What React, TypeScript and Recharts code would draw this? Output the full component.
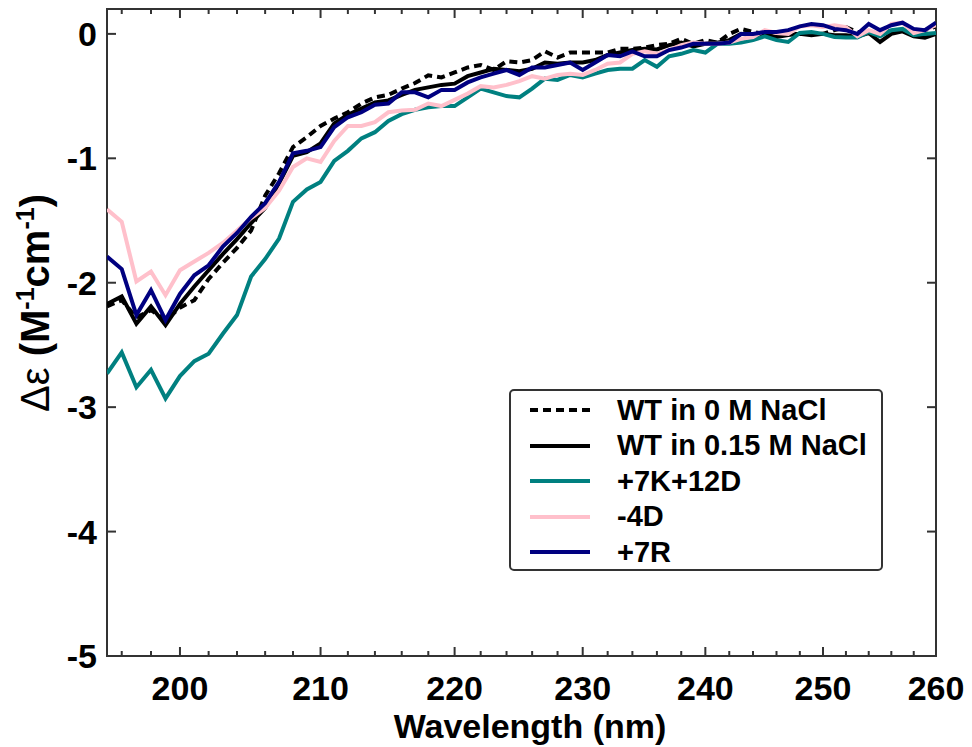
import { LineChart, Line, XAxis, YAxis, Legend, ReferenceArea, ReferenceLine } from "recharts";

// wavelength (nm), one reading per nm
const wavelength = [
  195, 196, 197, 198, 199, 200, 201, 202, 203, 204, 205, 206, 207, 208, 209, 210,
  211, 212, 213, 214, 215, 216, 217, 218, 219, 220, 221, 222, 223, 224, 225, 226,
  227, 228, 229, 230, 231, 232, 233, 234, 235, 236, 237, 238, 239, 240, 241, 242,
  243, 244, 245, 246, 247, 248, 249, 250, 251, 252, 253, 254, 255, 256, 257, 258,
  259, 260,
];

const wt0M = [
  -2.19, -2.14, -2.28, -2.22, -2.3, -2.2, -2.14, -1.97, -1.84, -1.72, -1.58, -1.3, -1.12, -0.91, -0.83, -0.74,
  -0.68, -0.63, -0.56, -0.51, -0.49, -0.44, -0.395, -0.333, -0.35, -0.31, -0.27, -0.25, -0.29, -0.22, -0.23, -0.21,
  -0.14, -0.19, -0.15, -0.15, -0.15, -0.15, -0.12, -0.12, -0.11, -0.09, -0.08, -0.04, -0.08, -0.05, -0.07, 0.0,
  0.04, 0.015, 0.0, 0.015, 0.0, 0.0, 0.007, 0.0, 0.03, 0.055, 0.015, 0.0, -0.01, 0.03, 0.03, 0.0,
  0.03, 0.06,
];

const wt015M = [
  -2.17, -2.11, -2.33, -2.19, -2.34, -2.17, -2.03, -1.9, -1.77, -1.65, -1.52, -1.4, -1.2, -0.98, -0.95, -0.88,
  -0.72, -0.65, -0.6, -0.55, -0.535, -0.49, -0.45, -0.43, -0.41, -0.4, -0.34, -0.31, -0.28, -0.29, -0.3, -0.28,
  -0.23, -0.24, -0.23, -0.23, -0.21, -0.17, -0.15, -0.13, -0.12, -0.125, -0.09, -0.07, -0.1, -0.08, -0.07, -0.05,
  0.0, -0.01, -0.01, -0.025, -0.01, 0.0, -0.01, 0.0, -0.01, -0.01, -0.02, 0.007, -0.065, 0.0, 0.02, -0.02,
  -0.03, 0.0,
];

const k7d12 = [
  -2.73, -2.56, -2.84, -2.7, -2.93, -2.75, -2.63, -2.57, -2.41, -2.26, -1.95, -1.81, -1.645, -1.35, -1.25, -1.19,
  -1.02, -0.94, -0.84, -0.79, -0.7, -0.645, -0.61, -0.59, -0.58, -0.58, -0.51, -0.44, -0.47, -0.5, -0.51, -0.44,
  -0.36, -0.37, -0.33, -0.35, -0.32, -0.29, -0.28, -0.28, -0.21, -0.265, -0.18, -0.16, -0.13, -0.15, -0.08, -0.08,
  -0.07, -0.05, -0.02, -0.05, -0.065, 0.007, 0.015, 0.0, -0.025, -0.03, -0.03, 0.015, -0.02, 0.03, 0.04, -0.01,
  0.0, 0.007,
];

const d4 = [
  -1.41, -1.51, -1.99, -1.91, -2.1, -1.9, -1.83, -1.76, -1.68, -1.58, -1.48, -1.4, -1.26, -1.07, -1.0, -1.03,
  -0.86, -0.74, -0.74, -0.71, -0.63, -0.615, -0.61, -0.56, -0.58, -0.53, -0.48, -0.42, -0.43, -0.41, -0.38, -0.34,
  -0.36, -0.33, -0.32, -0.33, -0.29, -0.24, -0.23, -0.16, -0.14, -0.16, -0.13, -0.09, -0.07, -0.08, -0.08, -0.07,
  -0.04, -0.025, 0.03, 0.007, 0.0, 0.06, 0.07, 0.055, 0.07, 0.055, -0.02, 0.03, 0.0, 0.08, 0.09, 0.007,
  0.03, 0.07,
];

const r7 = [
  -1.79, -1.89, -2.26, -2.06, -2.3, -2.09, -1.94, -1.86, -1.71, -1.6, -1.47, -1.36, -1.19, -0.96, -0.94, -0.91,
  -0.75, -0.67, -0.63, -0.57, -0.56, -0.47, -0.47, -0.51, -0.45, -0.45, -0.39, -0.35, -0.32, -0.29, -0.33, -0.27,
  -0.27, -0.25, -0.23, -0.29, -0.23, -0.17, -0.18, -0.14, -0.18, -0.18, -0.13, -0.11, -0.08, -0.08, -0.08, -0.07,
  0.0, 0.0, 0.015, 0.015, 0.03, 0.06, 0.08, 0.07, 0.04, 0.03, 0.0, 0.08, 0.03, 0.07, 0.09, 0.04,
  0.03, 0.09,
];

const xTicks = [200, 210, 220, 230, 240, 250, 260];
const xMinorTicks = [
  196, 198, 202, 204, 206, 208, 212, 214, 216, 218, 222, 224, 226, 228,
  232, 234, 236, 238, 242, 244, 246, 248, 252, 254, 256, 258,
];
const yTicks = [-5, -4, -3, -2, -1, 0];

const series = [
  { key: "wt0M", name: "WT in 0 M NaCl", color: "#000000", dash: "8 5" },
  { key: "wt015M", name: "WT in 0.15 M NaCl", color: "#000000", dash: undefined },
  { key: "k7d12", name: "+7K+12D", color: "#008080", dash: undefined },
  { key: "d4", name: "-4D", color: "#FFC0CB", dash: undefined },
  { key: "r7", name: "+7R", color: "#000080", dash: undefined },
];

const data = wavelength.map((w, i) => ({
  w,
  wt0M: wt0M[i],
  wt015M: wt015M[i],
  k7d12: k7d12[i],
  d4: d4[i],
  r7: r7[i],
}));

const W = 972;
const H = 747;
const TOP = 9;
const BOTTOM = 656;
const LEFT = 107;
const RIGHT = 936;
const FONT = "'Liberation Sans', Arial, sans-serif";
const AXIS = "#333333";

const XLabelTick = (props: any) => {
  const { x, payload } = props;
  return (
    <text x={x} y={BOTTOM + 44} textAnchor="middle" fontFamily={FONT} fontWeight="bold" fontSize={34} fill="#000">
      {payload.value}
    </text>
  );
};

const YLabelTick = (props: any) => {
  const { y, payload } = props;
  return (
    <text x={LEFT - 10} y={y + 12} textAnchor="end" fontFamily={FONT} fontWeight="bold" fontSize={34} fill="#000">
      {payload.value}
    </text>
  );
};

// inward tick marks at both ends of a reference line
const vTick = (len: number) => (p: any) => (
  <g stroke={AXIS} strokeWidth={2}>
    <line x1={p.x1} y1={TOP} x2={p.x1} y2={TOP + len} />
    <line x1={p.x1} y1={BOTTOM} x2={p.x1} y2={BOTTOM - len} />
  </g>
);

const hTick = (p: any) => (
  <g stroke={AXIS} strokeWidth={2}>
    <line x1={LEFT} y1={p.y1} x2={LEFT + 9} y2={p.y1} />
    <line x1={RIGHT} y1={p.y1} x2={RIGHT - 9} y2={p.y1} />
  </g>
);

const YLabel = () => (
  <text
    x={49}
    y={303}
    transform="rotate(-90, 49, 303)"
    textAnchor="middle"
    fontFamily={FONT}
    fontSize={40}
    fill="#000"
  >
    <tspan fontWeight="normal">Δε</tspan>
    <tspan fontWeight="bold"> (M</tspan>
    <tspan fontWeight="bold" fontSize={25} dy={-15}>-1</tspan>
    <tspan fontWeight="bold" dy={15}>cm</tspan>
    <tspan fontWeight="bold" fontSize={25} dy={-15}>-1</tspan>
    <tspan fontWeight="bold" dy={15}>)</tspan>
  </text>
);

const XLabel = () => (
  <text x={530} y={BOTTOM + 82} textAnchor="middle" fontFamily={FONT} fontWeight="bold" fontSize={34} fill="#000">
    Wavelength (nm)
  </text>
);

const LegendBox = () => (
  <div
    style={{
      position: "relative",
      width: 370,
      height: 178,
      border: `2px solid ${AXIS}`,
      borderRadius: 5,
      background: "#fff",
      fontFamily: FONT,
      fontWeight: "bold",
      fontSize: 29,
    }}
  >
    {series.map((s, i) => (
      <div
        key={s.key}
        style={{ position: "absolute", left: 0, top: 19 + i * 35.5 - 18, height: 36, display: "flex", alignItems: "center" }}
      >
        <svg width={100} height={36} style={{ display: "block" }}>
          <line x1={19} y1={18} x2={79} y2={18} stroke={s.color} strokeWidth={4} strokeDasharray={s.dash} />
        </svg>
        <span style={{ marginLeft: 6, whiteSpace: "nowrap", color: "#000" }}>{s.name}</span>
      </div>
    ))}
  </div>
);

export default function App() {
  return (
    <div style={{ position: "absolute", left: 0, top: 0, width: W, height: H, background: "#fff" }}>
      <LineChart
        width={W}
        height={H}
        data={data}
        margin={{ top: TOP, right: W - RIGHT, bottom: H - BOTTOM - 60, left: LEFT - 60 }}
      >
        <XAxis
          dataKey="w"
          type="number"
          scale="log"
          domain={[195, 260]}
          allowDataOverflow
          ticks={xTicks}
          interval={0}
          height={60}
          tickLine={false}
          axisLine={false}
          tick={<XLabelTick />}
          label={<XLabel />}
        />
        <YAxis
          type="number"
          domain={[-5, 0.2]}
          allowDataOverflow
          ticks={yTicks}
          interval={0}
          width={60}
          tickLine={false}
          axisLine={false}
          tick={<YLabelTick />}
          label={<YLabel />}
        />
        {xTicks.map((t) => (
          <ReferenceLine key={`xM${t}`} x={t} ifOverflow="visible" shape={vTick(9)} />
        ))}
        {xMinorTicks.map((t) => (
          <ReferenceLine key={`xm${t}`} x={t} ifOverflow="visible" shape={vTick(5)} />
        ))}
        {yTicks.map((t) => (
          <ReferenceLine key={`y${t}`} y={t} ifOverflow="visible" shape={hTick} />
        ))}
        <ReferenceArea
          x1={195}
          x2={260}
          y1={-5}
          y2={0.2}
          ifOverflow="visible"
          fill="none"
          fillOpacity={0}
          stroke={AXIS}
          strokeWidth={2}
          strokeOpacity={1}
        />
        {series.map((s) => (
          <Line
            key={s.key}
            dataKey={s.key}
            name={s.name}
            type="linear"
            stroke={s.color}
            strokeWidth={4}
            strokeDasharray={s.dash}
            dot={false}
            activeDot={false}
            isAnimationActive={false}
          />
        ))}
        <Legend
          layout="horizontal"
          verticalAlign="middle"
          align="center"
          content={<LegendBox />}
          wrapperStyle={{ position: "absolute", left: 509, top: 389, width: 374, height: 182 }}
        />
      </LineChart>
    </div>
  );
}
